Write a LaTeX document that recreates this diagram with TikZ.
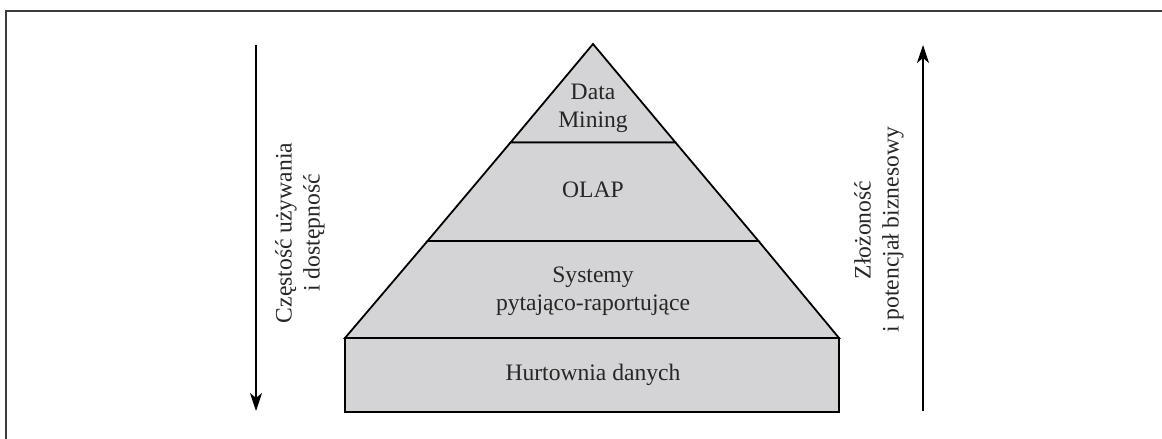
\documentclass[tikz,border=0pt]{standalone}
\usepackage{fontspec}
\setmainfont{Liberation Serif}
\usetikzlibrary{arrows.meta}
\definecolor{layerfill}{RGB}{212,212,214}
\definecolor{framegray}{RGB}{60,60,60}
\tikzset{
  layer/.style={draw=black, line width=1.8pt, fill=layerfill, line join=miter},
  label/.style={align=center, font=\fontsize{23.6}{28}\selectfont, text=black!85, inner sep=0pt},
  sidelabel/.style={label, rotate=90},
  axis/.style={draw=black, line width=1.5pt, -{Stealth[length=18pt, width=12pt, inset=5pt]}},
}
\begin{document}
\begin{tikzpicture}[x=1pt, y=-1pt]
  \useasboundingbox (0,0) rectangle (1162,439);
  % open frame
  \draw[framegray, line width=2.2pt] (6,439) -- (6,11) -- (1162,11);

  % key points of the pyramid
  \coordinate (apex) at (593,44);
  \coordinate (bl) at (345,338);
  \coordinate (br) at (839,338);

  % layers, top to bottom
  \path[layer] (apex) -- (510.5,142.5) -- (675.5,142.5) -- cycle;
  \path[layer] (510.5,142.5) -- (427.5,241) -- (758.5,241) -- (675.5,142.5) -- cycle;
  \path[layer] (427.5,241) -- (bl) -- (br) -- (758.5,241) -- cycle;
  \path[layer] (bl) rectangle (839,412);

  % layer captions
  \node[label] (dm) at (593,108) {Data\\Mining};
  \node[label] (olap) at (593,190) {OLAP};
  \node[label] (sys) at (593,291) {Systemy\\pytająco-raportujące};
  \node[label] (hd) at (593,375) {Hurtownia danych};

  % side axes
  \coordinate (ltop) at (256,45);
  \coordinate (lbot) at (256,411);
  \coordinate (rbot) at (923,411);
  \coordinate (rtop) at (923,45);
  \draw[axis] (ltop) -- (lbot);
  \draw[axis] (rbot) -- (rtop);

  \node[sidelabel] (freq) at (300,233) {Częstość używania\\i dostępność};
  \node[sidelabel] (cplx) at (879,230) {Złożoność\\i potencjał biznesowy};
\end{tikzpicture}
\end{document}
